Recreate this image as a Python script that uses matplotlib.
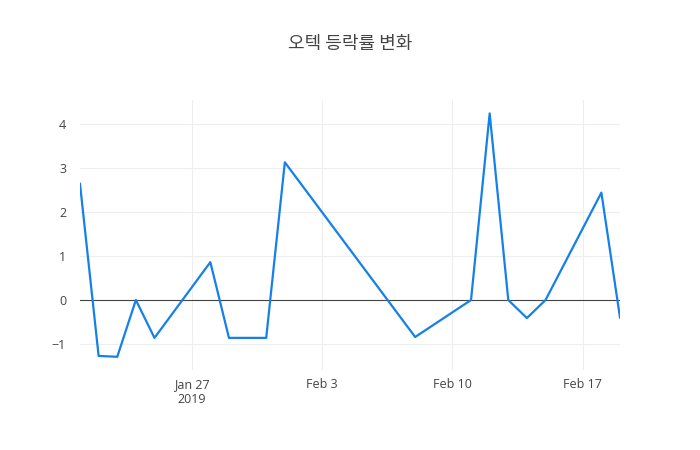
import datetime
import matplotlib
matplotlib.use("Agg")
import matplotlib.pyplot as plt
import matplotlib.dates as mdates

# 오텍 일별 등락률 (%)
dates = ["2019-01-21", "2019-01-22", "2019-01-23", "2019-01-24", "2019-01-25",
         "2019-01-28", "2019-01-29", "2019-01-31", "2019-02-01", "2019-02-08",
         "2019-02-11", "2019-02-12", "2019-02-13", "2019-02-14", "2019-02-15",
         "2019-02-18", "2019-02-19"]
changes = [2.64, -1.27, -1.29, 0.0, -0.86,
           0.86, -0.86, -0.86, 3.13, -0.84,
           0.0, 4.24, 0.0, -0.41, 0.0,
           2.44, -0.40]
tick_dates = ["2019-01-27", "2019-02-03", "2019-02-10", "2019-02-17"]
tick_labels = ["Jan 27\n2019", "Feb 3", "Feb 10", "Feb 17"]
title = "오텍 등락률 변화"

plt.rcParams['font.family'] = ['Open Sans', 'Noto Sans CJK KR', 'DejaVu Sans']

xs = [datetime.datetime.strptime(d, "%Y-%m-%d") for d in dates]
ticks = [datetime.datetime.strptime(d, "%Y-%m-%d") for d in tick_dates]

fig = plt.figure(figsize=(7, 4.5), dpi=100)
ax = fig.add_axes([80 / 700, 80 / 450, 540 / 700, 270 / 450])

ax.plot(xs, changes, color="#1580e8", linewidth=1.6, zorder=3)
ax.axhline(0, color="#444444", linewidth=0.8, zorder=2)

ax.set_xlim(xs[0], xs[-1])
ax.set_ylim(-1.59, 4.545)
ax.set_xticks(ticks)
ax.set_xticklabels(tick_labels)
ax.set_yticks([-1, 0, 1, 2, 3, 4])
ax.set_yticklabels(["\u22121", "0", "1", "2", "3", "4"])

ax.grid(True, color="#eeeeee", linewidth=0.8, zorder=0)
for s in ax.spines.values():
    s.set_visible(False)
ax.tick_params(axis="both", length=0, colors="#444444", labelsize=9, pad=6)
ax.tick_params(axis="y", pad=10)

fig.text(0.5, 1 - 44 / 450, title, ha="center", va="center",
         fontsize=13, color="#444444", family=['Noto Sans CJK KR', 'DejaVu Sans'])

fig.savefig("out.png", dpi=100, facecolor="white")
